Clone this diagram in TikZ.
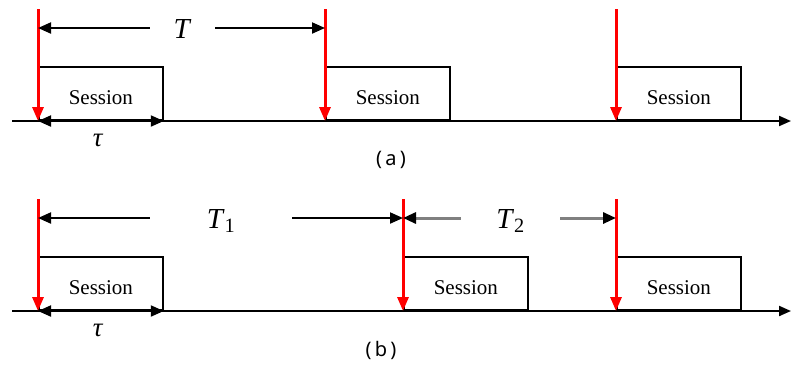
\documentclass[tikz,border=0pt]{standalone}
\usepackage{fontspec}
\setmainfont{Liberation Serif}
\newfontfamily\capfont{Noto Sans}
\usetikzlibrary{arrows.meta}
\tikzset{
  axisline/.style={line width=2pt, -{Triangle[length=12pt,width=10pt]}},
  trigger/.style={red, line width=3pt, -{Triangle[length=14pt,width=11pt]}},
  sessbox/.style={draw, line width=1.8pt, minimum width=124pt, minimum height=53pt,
    inner sep=0pt, anchor=south west, text height=22pt, text depth=0pt,
    font=\fontsize{21}{24}\selectfont},
  span/.style={line width=2pt, {Triangle[length=13pt,width=11pt]}-{Triangle[length=13pt,width=11pt]}},
  halfspan/.style={line width=2pt, -{Triangle[length=13pt,width=11pt]}},
  grayspan/.style={gray, line width=3pt, -{Triangle[length=13pt,width=11pt,black]}},
  period/.style={inner sep=0pt, minimum height=20pt, font=\fontsize{29}{32}\selectfont},
  tau/.style={font=\fontsize{27}{30}\selectfont},
  caption/.style={font=\capfont\fontsize{20}{22}\selectfont}
}
\begin{document}
\begin{tikzpicture}[x=1pt, y=-1pt]
    \useasboundingbox (0,0) rectangle (791,365);
    % ── (a) periodo fijo ──────────────────────────
    \begin{scope}
        \coordinate (a0) at (12,121);
        \coordinate (a9) at (791,121);
        \draw[axisline] (a0) -- (a9);
        \node[sessbox] (as1) at (38,121) {Session};
        \node[sessbox] (as2) at (325,121) {Session};
        \node[sessbox] (as3) at (616,121) {Session};
        \coordinate (at1) at (38,9);
        \coordinate (at2) at (325,9);
        \coordinate (at3) at (616,9);
        \draw[trigger] (at1) -- (as1.south west);
        \draw[trigger] (at2) -- (as2.south west);
        \draw[trigger] (at3) -- (as3.south west);
        \node[period, minimum width=65pt] (T) at (182.5,29) {\textit{T}};
        \coordinate (aL) at (38,28);
        \coordinate (aR) at (325,28);
        \draw[halfspan] (T.west |- aL) -- (aL);
        \draw[halfspan] (T.east |- aR) -- (aR);
        \draw[span] (as1.south west) -- (as1.south east);
        \node[tau] (atau) at (98,140) {\textit{τ}};
        \node[caption] (acap) at (391,160) {(\,a\,)};
    \end{scope}
    % ── (b) periodo variable ──────────────────────
    \begin{scope}
        \coordinate (b0) at (12,311);
        \coordinate (b9) at (791,311);
        \draw[axisline] (b0) -- (b9);
        \node[sessbox] (bs1) at (38,311) {Session};
        \node[sessbox] (bs2) at (403,311) {Session};
        \node[sessbox] (bs3) at (616,311) {Session};
        \coordinate (bt1) at (38,199);
        \coordinate (bt2) at (403,199);
        \coordinate (bt3) at (616,199);
        \draw[trigger] (bt1) -- (bs1.south west);
        \draw[trigger] (bt2) -- (bs2.south west);
        \draw[trigger] (bt3) -- (bs3.south west);
        \node[period, minimum width=142pt] (T1) at (221,221) {\textit{T}\textsubscript{1}};
        \coordinate (bL) at (38,218);
        \coordinate (bM) at (403,218);
        \coordinate (bR) at (616,218);
        \draw[halfspan] (T1.west |- bL) -- (bL);
        \draw[halfspan] (T1.east |- bM) -- (bM);
        \node[period, minimum width=99pt] (T2) at (510.5,221) {\textit{T}\textsubscript{2}};
        \draw[grayspan] (T2.west |- bM) -- (bM);
        \draw[grayspan] (T2.east |- bR) -- (bR);
        \draw[span] (bs1.south west) -- (bs1.south east);
        \node[tau] (btau) at (98,330) {\textit{τ}};
        \node[caption] (bcap) at (381,350) {(\,b\,)};
    \end{scope}
\end{tikzpicture}
\end{document}
